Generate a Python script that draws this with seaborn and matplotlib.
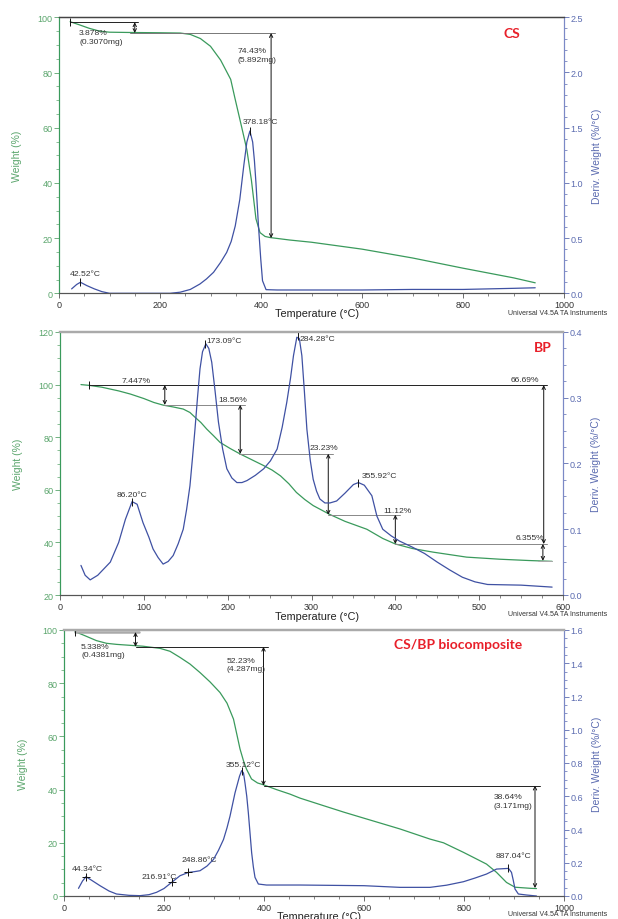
import matplotlib
matplotlib.use("Agg")
import matplotlib.pyplot as plt
from matplotlib.ticker import MultipleLocator, FormatStrFormatter
import seaborn as sns

# ---- CS : weight (%) and derivative (%/°C) vs temperature
cs_temp_w = [22, 40, 60, 80, 100, 140, 200, 240, 260, 280, 300, 320, 340, 348, 362, 372, 381,
             390, 398, 408, 418, 457, 500, 600, 700, 800, 900, 943]
cs_weight = [98.4, 97.3, 96.0, 95.0, 94.6, 94.5, 94.4, 94.3, 93.8, 92.3, 89.5, 84.5, 77.5, 71.0,
             60.0, 52.0, 41.0, 27.0, 22.0, 20.6, 20.2, 19.3, 18.5, 16.0, 12.8, 9.1, 5.6, 3.8]
cs_temp_d = [25, 35, 42.5, 55, 70, 85, 100, 150, 220, 240, 260, 279, 292, 306, 320, 332, 341,
             349, 358, 366, 372, 378, 383.5, 387, 390, 395, 399.5, 403, 410, 432, 500, 600, 700,
             800, 900, 943]
cs_deriv = [0.04, 0.08, 0.10, 0.07, 0.04, 0.015, 0.0, 0.0, 0.0, 0.01, 0.035, 0.084, 0.13, 0.19,
            0.28, 0.37, 0.47, 0.61, 0.85, 1.16, 1.37, 1.47, 1.37, 1.2, 1.0, 0.61, 0.31, 0.114,
            0.033, 0.03, 0.03, 0.03, 0.035, 0.035, 0.045, 0.05]

# ---- BP
bp_temp_w = [25, 35, 50, 70, 84, 100, 112, 123, 135, 147, 155, 161, 168, 175, 183, 191, 203, 215,
             229, 243, 253, 263, 273, 282, 292, 302, 312, 322, 340, 366, 385, 400, 420, 445, 485,
             525, 560, 587]
bp_weight = [100, 99.7, 99.0, 97.6, 96.4, 94.7, 93.2, 92.2, 91.5, 90.7, 89.4, 87.6, 85.6, 83.1,
             80.6, 78.0, 75.7, 73.6, 71.4, 69.2, 67.5, 65.3, 62.3, 59.0, 56.3, 54.0, 52.3, 50.6,
             48.0, 45.0, 41.5, 39.4, 37.7, 36.3, 34.4, 33.6, 33.1, 32.8]
bp_temp_d = [25, 30, 36, 45, 60, 70, 78, 86, 92, 99, 106, 111, 117, 123, 129, 135, 141, 147, 151,
             155, 158, 161, 164, 167, 170, 174, 177.5, 181, 185, 189, 194, 199, 205, 211, 217,
             223, 233, 243, 251, 259, 265, 270.5, 275, 278.5, 282.5, 285.5, 288.5, 291.5, 294.5,
             298.5, 302, 306, 310, 316, 322, 330, 340, 350, 356, 363, 372, 378, 385, 395, 405,
             420, 435, 450, 465, 480, 495, 510, 550, 587]
bp_deriv = [0.045, 0.03, 0.023, 0.03, 0.05, 0.08, 0.115, 0.142, 0.138, 0.11, 0.088, 0.07, 0.057,
            0.047, 0.051, 0.06, 0.078, 0.1, 0.13, 0.166, 0.208, 0.252, 0.3, 0.344, 0.37, 0.382,
            0.375, 0.354, 0.31, 0.263, 0.222, 0.192, 0.178, 0.171, 0.171, 0.174, 0.182, 0.192,
            0.204, 0.222, 0.255, 0.293, 0.33, 0.364, 0.392, 0.39, 0.364, 0.31, 0.252, 0.205, 0.176,
            0.158, 0.146, 0.14, 0.14, 0.143, 0.155, 0.168, 0.171, 0.167, 0.151, 0.12, 0.1, 0.09,
            0.082, 0.073, 0.063, 0.05, 0.038, 0.027, 0.02, 0.016, 0.015, 0.012]

# ---- CS/BP biocomposite
cb_temp_w = [22, 40, 65, 85, 105, 158, 192, 212, 232, 252, 272, 292, 312, 326, 339, 346, 352, 359,
             365, 375, 387, 399, 425, 452, 472, 520, 560, 599, 640, 672, 732, 759, 799, 820, 845,
             865, 885, 902, 932, 945]
cb_weight = [99.4, 98.0, 96.0, 95.0, 94.6, 93.9, 93.1, 92.0, 89.7, 87.2, 84.0, 80.5, 76.5, 72.5,
             66.5, 60.5, 55.3, 50.8, 47.7, 44.0, 42.5, 41.8, 40.0, 38.3, 36.8, 33.9, 31.5, 29.3,
             27.0, 25.2, 21.4, 20.0, 16.4, 14.4, 12.0, 8.9, 5.1, 3.3, 2.9, 2.8]
cb_temp_d = [29, 37, 44, 55, 72, 90, 105, 130, 152, 170, 185, 200, 217, 232, 249, 260, 272, 286,
             299, 309, 319, 326, 332, 342, 351, 355.3, 359, 362, 365.5, 368.7, 372, 375.3, 378.7,
             382, 388.7, 405, 472, 600, 672, 732, 765, 799, 822, 845, 865, 889, 895, 898.5, 902,
             908.7, 925, 945]
cb_deriv = [0.046, 0.09, 0.116, 0.095, 0.062, 0.03, 0.012, 0.004, 0.002, 0.008, 0.022, 0.045,
            0.086, 0.122, 0.142, 0.146, 0.152, 0.18, 0.22, 0.275, 0.34, 0.41, 0.48, 0.62, 0.72,
            0.754, 0.74, 0.68, 0.6, 0.5, 0.38, 0.26, 0.175, 0.112, 0.072, 0.066, 0.066, 0.062,
            0.052, 0.052, 0.065, 0.086, 0.108, 0.132, 0.162, 0.166, 0.142, 0.095, 0.042, 0.012,
            0.006, 0.0]

sns.set_theme(style="white")
plt.rcParams['font.family'] = ['Liberation Sans', 'DejaVu Sans']

GREEN = "#3a9a5c"
GREEN_TXT = "#5aa56c"
BLUE = "#3f51a3"
BLUE_TXT = "#5b6bb0"
RED = "#e8202a"
ANN = "#333333"

fig = plt.figure(figsize=(6.18, 9.2), dpi=100)


def panel(rect, tw, w, td, d, xlim, ylim, y2lim, xmaj, xmin, ymaj, ymin, y2maj, y2min,
          top_color, top_lw, xlab_y):
    ax = fig.add_axes(rect)
    ax2 = ax.twinx()
    sns.lineplot(x=tw, y=w, ax=ax, color=GREEN, lw=0.9)
    sns.lineplot(x=td, y=d, ax=ax2, color=BLUE, lw=0.9)
    ax.set_xlim(*xlim)
    ax.set_ylim(*ylim)
    ax2.set_ylim(*y2lim)
    ax.xaxis.set_major_locator(MultipleLocator(xmaj))
    ax.xaxis.set_minor_locator(MultipleLocator(xmin))
    ax.yaxis.set_major_locator(MultipleLocator(ymaj))
    ax.yaxis.set_minor_locator(MultipleLocator(ymin))
    ax2.yaxis.set_major_locator(MultipleLocator(y2maj))
    ax2.yaxis.set_minor_locator(MultipleLocator(y2min))
    ax2.yaxis.set_major_formatter(FormatStrFormatter('%.1f'))
    for a in (ax, ax2):
        a.tick_params(which='both', direction='out', labelsize=6.5, pad=1.2)
        a.tick_params(which='major', length=3.5, width=0.6)
        a.tick_params(which='minor', length=2, width=0.5)
    ax.tick_params(axis='x', which='both', bottom=True, colors='#555555', labelcolor='#333333')
    ax.tick_params(axis='y', which='both', left=True, colors=GREEN_TXT, labelcolor=GREEN_TXT)
    ax2.tick_params(axis='y', which='both', right=True, colors=BLUE_TXT, labelcolor=BLUE_TXT)
    for a in (ax, ax2):
        a.spines['left'].set_color(GREEN)
        a.spines['right'].set_color("#7b89c6")
        a.spines['bottom'].set_color('#555555')
        a.spines['top'].set_color(top_color)
        a.spines['top'].set_linewidth(top_lw)
        for s in ('left', 'right', 'bottom'):
            a.spines[s].set_linewidth(0.8)
    ax.set_xlabel('Temperature (°C)', fontsize=7.8, color='#222222')
    ax.xaxis.set_label_coords(0.51, xlab_y)
    ax.set_ylabel('Weight (%)', fontsize=7.5, color=GREEN_TXT)
    ax.yaxis.set_label_coords(-0.073, 0.5)
    ax2.set_ylabel('Deriv. Weight (%/°C)', fontsize=7.5, color=BLUE_TXT)
    ax2.yaxis.set_label_coords(1.056, 0.5)
    return ax, ax2


def hline(ax, y, x0, x1, color='#222222', lw=0.7):
    ax.plot([x0, x1], [y, y], color=color, lw=lw)


def darrow(ax, x, y0, y1):
    ax.annotate('', xy=(x, y1), xytext=(x, y0),
                arrowprops=dict(arrowstyle='<->', color='#111111', lw=0.7,
                                shrinkA=0, shrinkB=0, mutation_scale=6))


def note(ax, x, y, s, size=6.1):
    ax.text(x, y, s, fontsize=size, color=ANN, ha='left', va='center', linespacing=1.0)


def peak(ax, x, y, ms=6, mk='|'):
    ax.plot([x], [y], marker=mk, color='#111111', ms=ms, mew=0.7)


def univ(y_px):
    fig.text(508 / 618, 1 - y_px / 920, 'Universal V4.5A TA Instruments', fontsize=5,
             color='#333333', va='center', ha='left')


# ---------------- panel 1 : CS
ax, ax2 = panel([59 / 618, 1 - 294.3 / 920, 505 / 618, 276 / 920],
                cs_temp_w, cs_weight, cs_temp_d, cs_deriv,
                (0, 1000), (0, 100), (0, 2.5), 200, 50, 20, 5, 0.5, 0.1,
                '#444444', 0.9, -0.055)
hline(ax, 98.2, 22, 156)
hline(ax, 94.3, 140, 427, color='#777777')
peak(ax, 22, 98.2)
darrow(ax, 150, 98.2, 94.3)
darrow(ax, 420, 94.3, 20.0)
note(ax, 40, 94.6, '3.878%')
note(ax, 40, 91.3, '(0.3070mg)')
note(ax, 353, 87.9, '74.43%')
note(ax, 353, 84.6, '(5.892mg)')
peak(ax2, 42.5, 0.10)
peak(ax2, 378.2, 1.47)
note(ax2, 22, 0.18, '42.52°C')
note(ax2, 364, 1.56, '378.18°C')
ax.text(897, 94.3, 'CS', fontsize=10, color=RED, fontweight='bold', ha='center', va='center',
        family=['Lato', 'DejaVu Sans'])
univ(314)

# ---------------- panel 2 : BP
ax, ax2 = panel([60 / 618, 1 - 596 / 920, 503 / 618, 263 / 920],
                bp_temp_w, bp_weight, bp_temp_d, bp_deriv,
                (0, 600), (20, 120), (0, 0.4), 100, 25, 20, 5, 0.1, 0.025,
                '#aaaaaa', 1.6, -0.06)
hline(ax, 99.8, 35, 581)
peak(ax, 35, 99.8)
hline(ax, 92.3, 124, 221, color='#888888')
hline(ax, 73.7, 214, 326, color='#888888')
hline(ax, 50.5, 320, 406, color='#888888')
hline(ax, 39.4, 400, 581, color='#888888')
hline(ax, 33.0, 570, 587, color='#aaaaaa')
darrow(ax, 125, 99.8, 92.3)
darrow(ax, 215, 92.3, 73.7)
darrow(ax, 320, 73.7, 50.5)
darrow(ax, 400, 50.5, 39.4)
darrow(ax, 576, 39.4, 33.0)
darrow(ax, 577, 99.8, 39.4)
note(ax, 73, 101.7, '7.447%')
note(ax, 189, 94.5, '18.56%')
note(ax, 298, 76.0, '23.23%')
note(ax, 386, 52.0, '11.12%')
note(ax, 544, 41.8, '6.355%')
note(ax, 538, 101.9, '66.69%')
peak(ax2, 86.2, 0.142)
peak(ax2, 173.1, 0.382)
peak(ax2, 284.3, 0.394)
peak(ax2, 355.9, 0.171)
note(ax, 67, 58.4, '86.20°C')
note(ax, 175, 116.7, '173.09°C')
note(ax, 286, 117.6, '284.28°C')
note(ax, 360, 65.4, '355.92°C')
ax.text(576, 114.3, 'BP', fontsize=10, color=RED, fontweight='bold', ha='center', va='center',
        family=['Lato', 'DejaVu Sans'])
univ(615)

# ---------------- panel 3 : CS/BP biocomposite
ax, ax2 = panel([64 / 618, 1 - 897 / 920, 500 / 618, 266 / 920],
                cb_temp_w, cb_weight, cb_temp_d, cb_deriv,
                (0, 1000), (0, 100), (0, 1.6), 200, 50, 20, 5, 0.2, 0.05,
                '#aaaaaa', 1.6, -0.055)
hline(ax, 99.2, 22, 150, color='#aaaaaa', lw=1.8)
peak(ax, 22, 99.2)
hline(ax, 93.7, 143, 408)
hline(ax, 41.5, 399, 951)
darrow(ax, 143, 99.2, 93.7)
darrow(ax, 399, 93.7, 41.5)
darrow(ax, 942, 41.5, 3.0)
note(ax, 34, 93.9, '5.338%')
note(ax, 34, 90.7, '(0.4381mg)')
note(ax, 325, 88.5, '52.23%')
note(ax, 325, 85.5, '(4.287mg)')
note(ax, 859, 37.3, '38.64%')
note(ax, 859, 34.2, '(3.171mg)')
peak(ax2, 44.3, 0.116, mk='+')
peak(ax2, 216.9, 0.086, mk='+')
peak(ax2, 248.9, 0.142, mk='+')
peak(ax2, 355.3, 0.754)
peak(ax2, 887.0, 0.166)
note(ax, 15, 10.4, '44.34°C')
note(ax, 155, 7.4, '216.91°C')
note(ax, 235, 13.6, '248.86°C')
note(ax, 323, 49.5, '355.12°C')
note(ax, 864, 15.2, '887.04°C')
ax.text(789, 94.7, 'CS/BP biocomposite', fontsize=10, color=RED, fontweight='bold',
        ha='center', va='center', family=['Lato', 'DejaVu Sans'])
univ(915)

fig.savefig('out.png', dpi=100)
